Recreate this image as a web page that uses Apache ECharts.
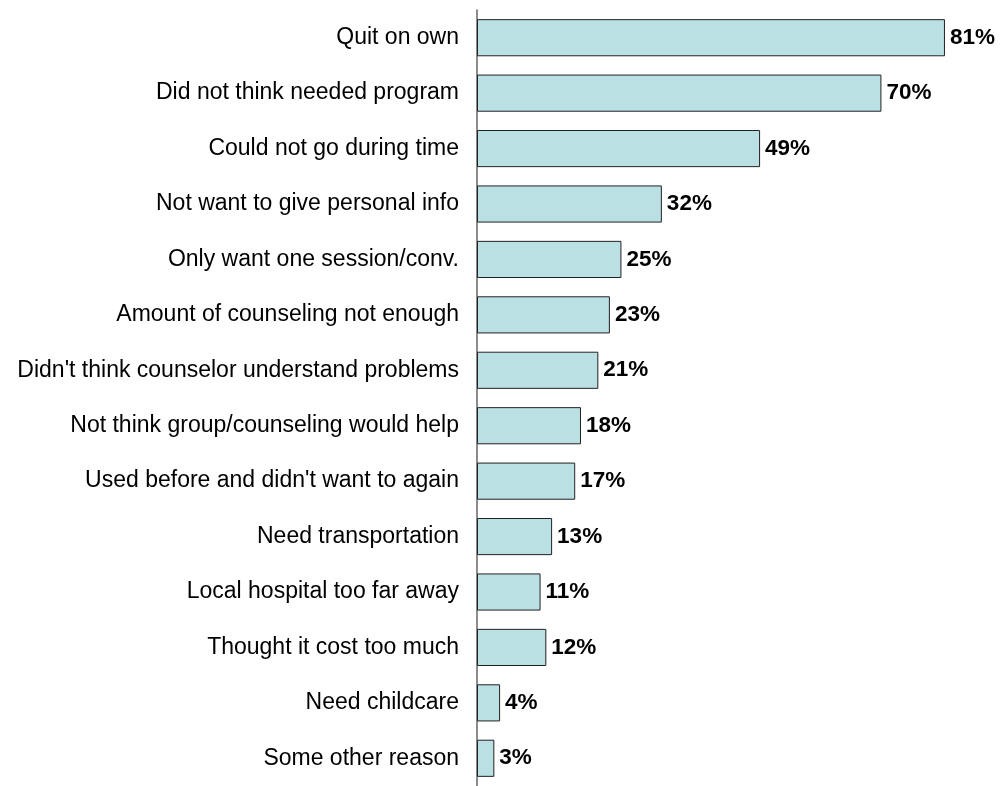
<!DOCTYPE html>
<html><head><meta charset="utf-8">
<script src="https://cdn.jsdelivr.net/npm/echarts@6/dist/echarts.min.js"></script>
<style>html,body{margin:0;padding:0;background:#fff}#c{width:1001px;height:786px}</style>
</head><body><div id="c"></div>
<script>
var categories = ["Quit on own","Did not think needed program","Could not go during time","Not want to give personal info","Only want one session/conv.","Amount of counseling not enough","Didn't think counselor understand problems","Not think group/counseling would help","Used before and didn't want to again","Need transportation","Local hospital too far away","Thought it cost too much","Need childcare","Some other reason"];
var values = [81,70,49,32,25,23,21,18,17,13,11,12,4,3];
var chart = echarts.init(document.getElementById('c'), null, {renderer:'canvas'});
chart.setOption({
  animation:false,
  grid:{left:477, top:10, width:524, height:777, containLabel:false},
  xAxis:{type:'value', min:0, max:90.7, show:false},
  yAxis:{type:'category', inverse:true, data:categories,
    axisLine:{lineStyle:{color:'#666', width:1.5}},
    axisTick:{length:6, lineStyle:{color:'#333'}},
    axisLabel:{color:'#000', fontFamily:'Liberation Sans, Arial', fontSize:23, margin:18}},
  series:[{type:'bar', data:values, barCategoryGap:'33%',
    itemStyle:{color:'#BAE0E3', borderColor:'#222', borderWidth:1},
    label:{show:true, position:'right', distance:5, formatter:'{c}%', color:'#000', fontWeight:'bold', fontFamily:'Liberation Sans, Arial', fontSize:22.5}}]
});
</script></body></html>
